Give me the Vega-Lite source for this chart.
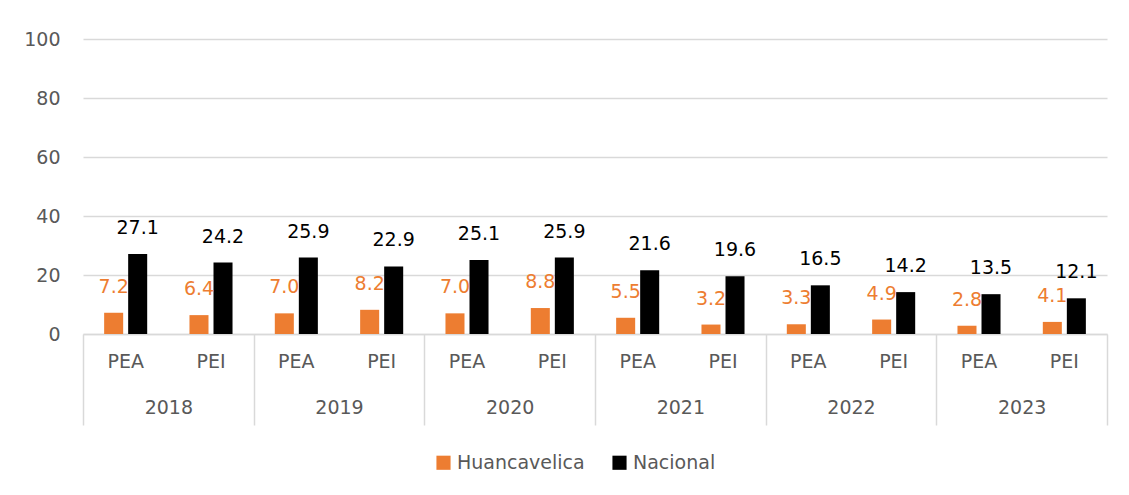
{
  "$schema": "https://vega.github.io/schema/vega-lite/v6.json",
  "width": 1024,
  "height": 295,
  "autosize": "none",
  "padding": {"left": 83, "top": 39, "right": 22, "bottom": 161},
  "config": {"font": "DejaVu Sans", "view": {"stroke": null}},
  "data": {
    "values": [
      {"year": "2018", "ind": "PEA", "cat": "2018 PEA", "series": "Huancavelica", "value": 7.2},
      {"year": "2018", "ind": "PEA", "cat": "2018 PEA", "series": "Nacional", "value": 27.1},
      {"year": "2018", "ind": "PEI", "cat": "2018 PEI", "series": "Huancavelica", "value": 6.4},
      {"year": "2018", "ind": "PEI", "cat": "2018 PEI", "series": "Nacional", "value": 24.2},
      {"year": "2019", "ind": "PEA", "cat": "2019 PEA", "series": "Huancavelica", "value": 7.0},
      {"year": "2019", "ind": "PEA", "cat": "2019 PEA", "series": "Nacional", "value": 25.9},
      {"year": "2019", "ind": "PEI", "cat": "2019 PEI", "series": "Huancavelica", "value": 8.2},
      {"year": "2019", "ind": "PEI", "cat": "2019 PEI", "series": "Nacional", "value": 22.9},
      {"year": "2020", "ind": "PEA", "cat": "2020 PEA", "series": "Huancavelica", "value": 7.0},
      {"year": "2020", "ind": "PEA", "cat": "2020 PEA", "series": "Nacional", "value": 25.1},
      {"year": "2020", "ind": "PEI", "cat": "2020 PEI", "series": "Huancavelica", "value": 8.8},
      {"year": "2020", "ind": "PEI", "cat": "2020 PEI", "series": "Nacional", "value": 25.9},
      {"year": "2021", "ind": "PEA", "cat": "2021 PEA", "series": "Huancavelica", "value": 5.5},
      {"year": "2021", "ind": "PEA", "cat": "2021 PEA", "series": "Nacional", "value": 21.6},
      {"year": "2021", "ind": "PEI", "cat": "2021 PEI", "series": "Huancavelica", "value": 3.2},
      {"year": "2021", "ind": "PEI", "cat": "2021 PEI", "series": "Nacional", "value": 19.6},
      {"year": "2022", "ind": "PEA", "cat": "2022 PEA", "series": "Huancavelica", "value": 3.3},
      {"year": "2022", "ind": "PEA", "cat": "2022 PEA", "series": "Nacional", "value": 16.5},
      {"year": "2022", "ind": "PEI", "cat": "2022 PEI", "series": "Huancavelica", "value": 4.9},
      {"year": "2022", "ind": "PEI", "cat": "2022 PEI", "series": "Nacional", "value": 14.2},
      {"year": "2023", "ind": "PEA", "cat": "2023 PEA", "series": "Huancavelica", "value": 2.8},
      {"year": "2023", "ind": "PEA", "cat": "2023 PEA", "series": "Nacional", "value": 13.5},
      {"year": "2023", "ind": "PEI", "cat": "2023 PEI", "series": "Huancavelica", "value": 4.1},
      {"year": "2023", "ind": "PEI", "cat": "2023 PEI", "series": "Nacional", "value": 12.1}
    ]
  },
  "layer": [
    {
      "encoding": {
        "x": {
          "field": "cat", "type": "nominal",
          "scale": {"paddingInner": 0, "paddingOuter": 0},
          "axis": {
            "orient": "bottom", "title": null, "labelAngle": 0,
            "labelExpr": "split(datum.label, ' ')[1]",
            "ticks": false, "domain": true, "domainColor": "#D9D9D9", "domainWidth": 1.5,
            "labelPadding": 18, "labelFontSize": 19, "labelColor": "#595959", "grid": false
          }
        },
        "xOffset": {
          "field": "series", "type": "nominal",
          "scale": {"paddingInner": 0.208, "paddingOuter": 0.88}
        },
        "y": {
          "field": "value", "type": "quantitative",
          "scale": {"domain": [0, 100]},
          "axis": {
            "title": null, "values": [0, 20, 40, 60, 80, 100],
            "grid": true, "gridColor": "#D9D9D9", "gridWidth": 1.5,
            "domain": false, "ticks": false, "labelPadding": 23,
            "labelFontSize": 19, "labelColor": "#595959"
          }
        },
        "color": {
          "field": "series", "type": "nominal",
          "scale": {"domain": ["Huancavelica", "Nacional"], "range": ["#ED7D31", "#000000"]},
          "legend": {
            "orient": "none", "legendX": 351, "legendY": 414, "direction": "horizontal", "title": null,
            "symbolType": "square", "symbolSize": 200, "symbolStrokeWidth": 0,
            "labelFontSize": 19, "labelColor": "#595959", "columnPadding": 25, "labelOffset": 4
          }
        }
      },
      "layer": [
        {"mark": {"type": "bar"}},
        {
          "mark": {"type": "text", "baseline": "middle", "dy": -26, "fontSize": 19},
          "encoding": {
            "text": {"field": "value", "type": "quantitative", "format": ".1f"}
          }
        }
      ]
    },
    {
      "mark": {"type": "text", "opacity": 0},
      "encoding": {
        "x": {
          "field": "year", "type": "nominal",
          "scale": {"paddingInner": 0, "paddingOuter": 0},
          "axis": {
            "orient": "bottom", "title": null, "labelAngle": 0, "domain": false,
            "ticks": true, "tickBand": "extent", "tickSize": 91, "tickColor": "#D9D9D9", "tickWidth": 1.5,
            "labelPadding": -27, "labelFontSize": 19, "labelColor": "#595959", "grid": false
          }
        },
        "text": {"value": ""}
      }
    }
  ],
  "resolve": {"scale": {"x": "independent"}}
}
